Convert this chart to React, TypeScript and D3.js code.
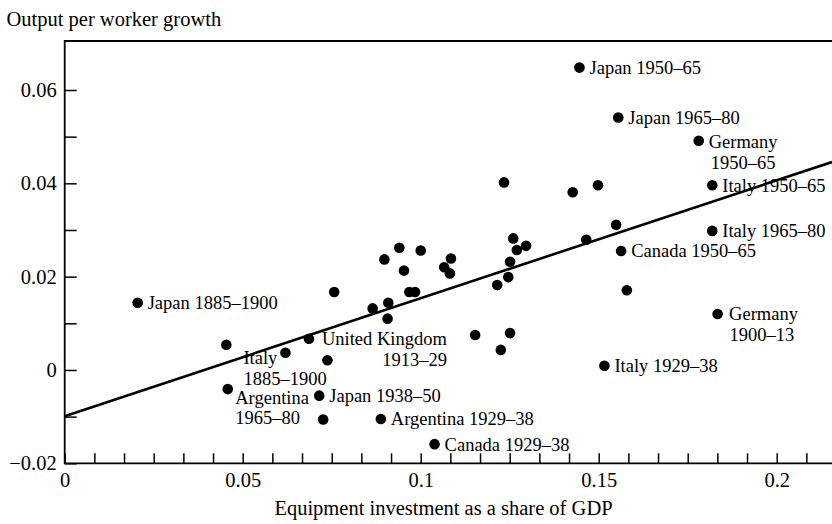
import React, { PureComponent } from 'react'
import * as d3 from 'd3'

// Labelled observations (country + period)
const labelNames = [
  'Japan 1885–1900', 'Italy 1885–1900', 'United Kingdom 1913–29', 'Argentina 1965–80',
  'Japan 1938–50', 'Argentina 1929–38', 'Canada 1929–38', 'Italy 1929–38',
  'Germany 1900–13', 'Canada 1950–65', 'Italy 1965–80', 'Italy 1950–65',
  'Germany 1950–65', 'Japan 1965–80', 'Japan 1950–65',
]
const labelInvest = [0.0205, 0.062, 0.0686, 0.0458, 0.0715, 0.0888, 0.1039, 0.1516, 0.1834, 0.1563, 0.1819, 0.1819, 0.1781, 0.1555, 0.1446]
const labelGrowth = [0.0144, 0.0037, 0.0067, -0.0041, -0.0055, -0.0105, -0.0159, 0.0009, 0.012, 0.0255, 0.0298, 0.0396, 0.0491, 0.0541, 0.0648]

// Unlabelled observations
const otherInvest = [
  0.0454, 0.0738, 0.0726, 0.0757, 0.0865, 0.0909, 0.0907, 0.0968, 0.0984, 0.1153,
  0.1215, 0.1251, 0.1225, 0.1579, 0.1234, 0.1427, 0.1498, 0.1549, 0.1465, 0.126,
  0.127, 0.1296, 0.1251, 0.1246, 0.1, 0.0953, 0.094, 0.1085, 0.1066, 0.1082, 0.0898,
]
const otherGrowth = [
  0.0054, 0.0021, -0.0106, 0.0167, 0.0132, 0.0144, 0.011, 0.0167, 0.0167, 0.0075,
  0.0182, 0.0079, 0.0043, 0.0171, 0.0402, 0.0381, 0.0396, 0.0311, 0.0279, 0.0282,
  0.0257, 0.0266, 0.0232, 0.0199, 0.0256, 0.0213, 0.0262, 0.0239, 0.022, 0.0207, 0.0237,
]

// Fitted line
const fitIntercept = -0.0099
const fitSlope = 0.2527

// Ticks
const xTickValues = [0, 0.05, 0.1, 0.15, 0.2]
const xTickLabels = ['0', '0.05', '0.1', '0.15', '0.2']
const yTickValues = [-0.02, 0, 0.02, 0.04, 0.06]
const yTickLabels = ['\u22120.02', '0', '0.02', '0.04', '0.06']

const xTitle = 'Equipment investment as a share of GDP'
const yTitle = 'Output per worker growth'

// Where the two-line labels sit relative to their dot
type LabelPos = { dx: number[]; dy: number[]; anchor: string[] }
const twoLine: Record<string, LabelPos> = {
  'Italy 1885–1900': { dx: [-42, -42], dy: [5, 25.5], anchor: ['start', 'start'] },
  'United Kingdom 1913–29': { dx: [13, 138], dy: [0, 21], anchor: ['start', 'end'] },
  'Argentina 1965–80': { dx: [7.5, 7.5], dy: [8, 28.7], anchor: ['start', 'start'] },
  'Germany 1900–13': { dx: [11.5, 12], dy: [0, 21], anchor: ['start', 'start'] },
  'Germany 1950–65': { dx: [10, 12], dy: [0.7, 21.7], anchor: ['start', 'start'] },
}

const FONT = '"Liberation Serif", "Times New Roman", serif'

export default class App extends PureComponent {
  svgRef = React.createRef<SVGSVGElement>()

  width = 832
  height = 524
  left = 64.7
  top = 41
  bottom = 463.3

  componentDidMount() {
    this.initSVG()
  }

  initSVG() {
    const svg = d3.select(this.svgRef.current)
    svg.selectAll('*').remove()

    const x = d3.scaleLinear().domain([0, 0.2]).range([this.left, 776.7])
    const y = d3.scaleLinear().domain([-0.02, 0.06]).range([this.bottom, 90])
    const xMax = x.invert(this.width)

    // Frame (left, top, bottom; the right side runs off the page)
    svg.append('path')
      .attr('d', `M${this.width},${this.top}H${this.left}V${this.bottom}H${this.width}`)
      .attr('fill', 'none')
      .attr('stroke', '#000')
      .attr('stroke-width', 1.8)

    // Minor + major ticks on x, pointing up
    const xMinor = d3.range(0, xMax, 0.05 / 6)
    svg.append('g')
      .attr('transform', `translate(0,${this.bottom})`)
      .call(d3.axisBottom(x).tickValues(xMinor).tickSizeInner(-10).tickSizeOuter(0).tickFormat(() => ''))
      .call(g => g.select('.domain').remove())
      .call(g => g.selectAll('line').attr('stroke', '#000').attr('stroke-width', 1.5))

    svg.append('g')
      .attr('transform', `translate(0,${this.bottom})`)
      .call(d3.axisBottom(x).tickValues(xTickValues).tickSize(0).tickPadding(9)
        .tickFormat((d, i) => xTickLabels[i]))
      .call(g => g.select('.domain').remove())
      .selectAll('text')
      .attr('fill', '#000')
      .style('font-family', FONT)
      .style('font-size', '20.5px')

    // y ticks every 0.01, pointing right
    const yMinor = d3.range(-0.02, 0.065, 0.01)
    svg.append('g')
      .attr('transform', `translate(${this.left},0)`)
      .call(d3.axisLeft(y).tickValues(yMinor).tickSizeInner(-12).tickSizeOuter(0).tickFormat(() => ''))
      .call(g => g.select('.domain').remove())
      .call(g => g.selectAll('line').attr('stroke', '#000').attr('stroke-width', 1.5))

    svg.append('g')
      .attr('transform', `translate(${this.left},0)`)
      .call(d3.axisLeft(y).tickValues(yTickValues).tickSize(0).tickPadding(8)
        .tickFormat((d, i) => yTickLabels[i]))
      .call(g => g.select('.domain').remove())
      .selectAll('text')
      .attr('fill', '#000')
      .style('font-family', FONT)
      .style('font-size', '20.5px')

    // Titles
    svg.append('text')
      .attr('x', 6.5)
      .attr('y', 26)
      .attr('font-family', FONT)
      .attr('font-size', 20.5)
      .text(yTitle)

    svg.append('text')
      .attr('x', 443.5)
      .attr('y', 515)
      .attr('text-anchor', 'middle')
      .attr('font-family', FONT)
      .attr('font-size', 20.5)
      .text(xTitle)

    // Fitted line
    const line = d3.line<number>().x(d => x(d)).y(d => y(fitIntercept + fitSlope * d))
    svg.append('path')
      .datum([0, xMax])
      .attr('d', line)
      .attr('fill', 'none')
      .attr('stroke', '#000')
      .attr('stroke-width', 2.6)

    // Dots
    const dots = [
      ...otherInvest.map((v, i) => [v, otherGrowth[i]]),
      ...labelInvest.map((v, i) => [v, labelGrowth[i]]),
    ]
    svg.append('g')
      .selectAll('circle')
      .data(dots)
      .enter().append('circle')
      .attr('cx', d => x(d[0]))
      .attr('cy', d => y(d[1]))
      .attr('r', 5.3)
      .attr('fill', '#000')

    // Labels
    const labels = svg.append('g')
      .attr('font-family', FONT)
      .attr('font-size', 18.5)
      .attr('fill', '#000')

    labelNames.forEach((name, i) => {
      const cx = x(labelInvest[i])
      const cy = y(labelGrowth[i])
      const pos = twoLine[name]
      if (pos) {
        const cut = name.lastIndexOf(' ')
        const lines = [name.slice(0, cut), name.slice(cut + 1)]
        lines.forEach((txt, j) => {
          labels.append('text')
            .attr('x', cx + pos.dx[j])
            .attr('y', cy + pos.dy[j])
            .attr('dy', '0.35em')
            .attr('text-anchor', pos.anchor[j])
            .text(txt)
        })
      } else {
        labels.append('text')
          .attr('x', cx + 10)
          .attr('y', cy)
          .attr('dy', '0.35em')
          .text(name)
      }
    })
  }

  render() {
    return (
      <svg
        ref={this.svgRef}
        width={this.width}
        height={this.height}
        style={{ position: 'absolute', left: 0, top: 0, background: '#fff' }}
      />
    )
  }
}
